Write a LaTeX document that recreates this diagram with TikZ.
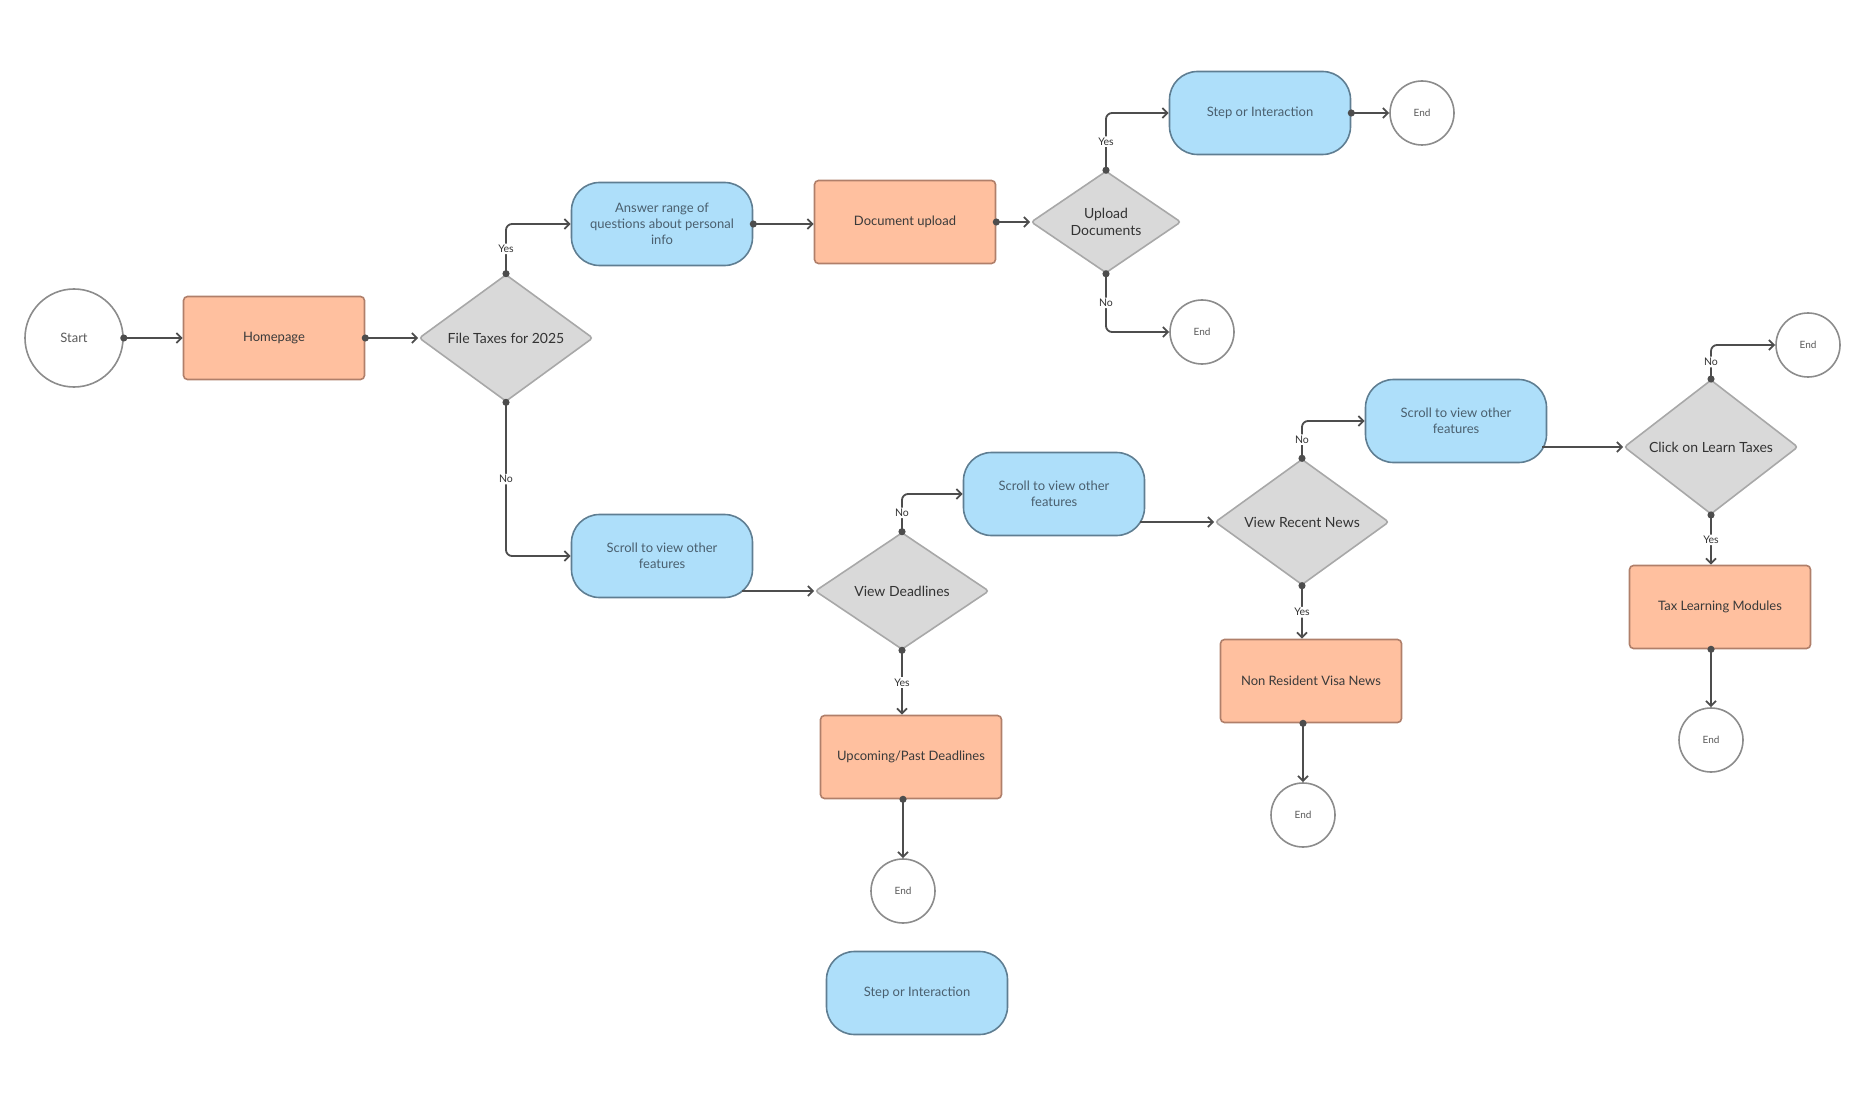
\documentclass[tikz,border=0pt]{standalone}
\usepackage{fontspec}
\setmainfont{Lato}
\usetikzlibrary{shapes.geometric,arrows.meta,calc}

\definecolor{peach}{HTML}{FFC09F}
\definecolor{peachline}{HTML}{B07F6A}
\definecolor{peachtext}{HTML}{3A3A3A}
\definecolor{sky}{HTML}{AEDFFA}
\definecolor{skyline}{HTML}{5F7E92}
\definecolor{skytext}{HTML}{4A5F6E}
\definecolor{stone}{HTML}{D9D9D9}
\definecolor{stoneline}{HTML}{A8A8A8}
\definecolor{stonetext}{HTML}{333333}
\definecolor{ring}{HTML}{8C8C8C}
\definecolor{ringtext}{HTML}{5A5A5A}
\definecolor{wire}{HTML}{4D4D4D}

\begin{document}
\begin{tikzpicture}[
    x=1pt, y=-1pt,
    every node/.style = {align=center, font=\fontsize{13}{16}\selectfont},
    page/.style = {draw=peachline, fill=peach, text=peachtext, line width=1.6pt,
      rounded corners=4pt, minimum width=181pt, minimum height=83pt},
    stepbox/.style = {draw=skyline, fill=sky, text=skytext, line width=1.6pt,
      rounded corners=28pt, minimum width=181pt, minimum height=83pt},
    choice/.style = {diamond, draw=stoneline, fill=stone, text=stonetext, line width=1.6pt,
      rounded corners=3pt, inner sep=0pt, minimum width=174pt, minimum height=117pt,
      font=\fontsize{14}{17}\selectfont},
    terminal/.style = {circle, draw=ring, fill=white, text=ringtext, line width=1.6pt,
      inner sep=0pt, minimum size=64pt, font=\fontsize{10}{12}\selectfont},
    flow/.style = {draw=wire, line width=1.8pt, rounded corners=6pt,
      {Circle[length=7pt,sep=-3.5pt]}-{Straight Barb[length=5pt,width=10pt]}},
    plain/.style = {draw=wire, line width=1.8pt, -{Straight Barb[length=5pt,width=10pt]}},
    tag/.style = {fill=white, text=stonetext, inner sep=1.5pt, font=\fontsize{10.5}{12}\selectfont}
  ]
    \useasboundingbox (0,0) rectangle (1866,1107);

    \node[terminal, minimum size=98pt, font=\fontsize{13}{15}\selectfont] (start) at (74,338) {Start};
    \node[page] (home) at (274,338) {Homepage};
    \node[choice] (file) at (506,338) {File Taxes for 2025};
    \node[stepbox] (answer) at (662,224) {Answer range of\\questions about personal\\info};
    \node[page] (docup) at (905,222) {Document upload};
    \node[choice, minimum width=150pt, minimum height=102pt] (upload) at (1106,222) {Upload\\Documents};
    \node[stepbox] (step1) at (1260,113) {Step or Interaction};
    \node[terminal] (end1) at (1422,113) {End};
    \node[terminal] (end2) at (1202,332) {End};

    \node[stepbox] (scroll1) at (662,556) {Scroll to view other\\features};
    \node[choice] (dead) at (902,591) {View Deadlines};
    \node[stepbox] (scroll2) at (1054,494) {Scroll to view other\\features};
    \node[page] (upc) at (911,757) {Upcoming/Past Deadlines};
    \node[terminal] (end3) at (903,891) {End};
    \node[stepbox] (step2) at (917,993) {Step or Interaction};

    \node[choice] (news) at (1302,522) {View Recent News};
    \node[stepbox] (scroll3) at (1456,421) {Scroll to view other\\features};
    \node[page] (visa) at (1311,681) {Non Resident Visa News};
    \node[terminal] (end4) at (1303,815) {End};

    \node[choice] (learn) at (1711,447) {Click on Learn Taxes};
    \node[terminal] (end5) at (1808,345) {End};
    \node[page] (module) at (1720,607) {Tax Learning Modules};
    \node[terminal] (end6) at (1711,740) {End};

    \draw[flow] (start.east) -- (home.west);
    \draw[flow] (home.east) -- (file.west);
    \draw[flow] (file.north) |- node[tag, pos=0.25] {Yes} (answer.west);
    \draw[flow] (file.south) |- node[tag, pos=0.25] {No} (scroll1.west);
    \draw[flow] (answer.east) -- (answer.east -| docup.west);
    \draw[flow] (docup.east) -- (upload.west);
    \draw[flow] (upload.north) |- node[tag, pos=0.25] {Yes} (step1.west);
    \draw[flow] (upload.south) |- node[tag, pos=0.25] {No} (end2.west);
    \draw[flow] (step1.east) -- (end1.west);

    \draw[plain] ($(scroll1.east |- dead.west)+(-11,0)$) -- (dead.west);
    \draw[flow] (dead.north) |- node[tag, pos=0.25] {No} (scroll2.west);
    \draw[flow] (dead.south) -- node[tag] {Yes} (dead.south |- upc.north);
    \draw[flow] (upc.south -| end3) -- (end3.north);

    \draw[plain] ($(scroll2.east |- news.west)+(-5,0)$) -- (news.west);
    \draw[flow] (news.north) |- node[tag, pos=0.25] {No} (scroll3.west);
    \draw[flow] (news.south) -- node[tag] {Yes} (news.south |- visa.north);
    \draw[flow] (visa.south -| end4) -- (end4.north);

    \draw[plain] ($(scroll3.east |- learn.west)+(-5,0)$) -- (learn.west);
    \draw[flow] (learn.north) |- node[tag, pos=0.25] {No} (end5.west);
    \draw[flow] (learn.south) -- node[tag] {Yes} (learn.south |- module.north);
    \draw[flow] (module.south -| end6) -- (end6.north);
\end{tikzpicture}
\end{document}
